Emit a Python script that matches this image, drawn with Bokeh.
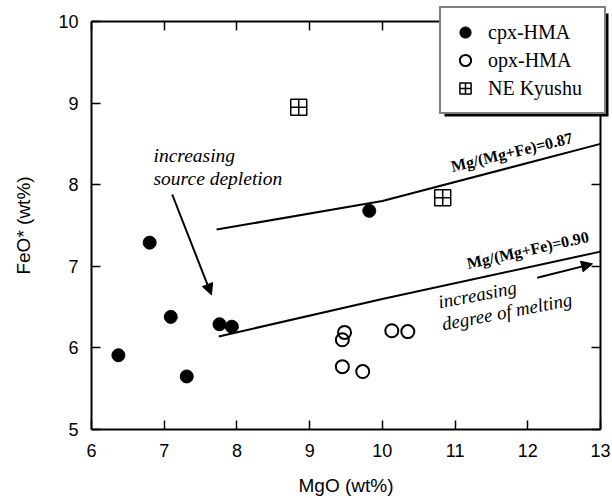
from bokeh.plotting import figure
from bokeh.models import (LinearAxis, Legend, LegendItem, Arrow,
                          NormalHead, BoxAnnotation, FixedTicker, Label)
from bokeh.embed import file_html
from bokeh.resources import INLINE

# ---- data ----
cpx_mgo = [6.37, 6.80, 7.09, 7.31, 7.76, 7.93, 9.82]
cpx_feo = [5.91, 7.29, 6.38, 5.65, 6.29, 6.26, 7.68]
opx_mgo = [9.48, 9.45, 10.13, 10.35, 9.45, 9.73]
opx_feo = [6.19, 6.10, 6.21, 6.20, 5.77, 5.71]
kyushu_mgo = [8.85, 10.83]
kyushu_feo = [8.95, 7.84]
line087_mgo = [7.72, 10.0, 13.0]
line087_feo = [7.45, 7.80, 8.50]
line090_mgo = [7.75, 10.0, 13.0]
line090_feo = [6.14, 6.60, 7.18]
x_ticks = [6, 7, 8, 9, 10, 11, 12, 13]
y_ticks = [5, 6, 7, 8, 9, 10]
x_lim = (6, 13)
y_lim = (5, 10)

SANS = "Liberation Sans"
SERIF = "Liberation Serif"

# plotting box in canvas pixels: left 91, right 600, top 21, bottom 429
W, H = 612, 498
BL, BR, BT, BB = 91, 600, 21, 429
sx = (BR - BL) / (x_lim[1] - x_lim[0])
sy = (BB - BT) / (y_lim[1] - y_lim[0])
xr = (x_lim[0] - BL / sx, x_lim[1] + (W - BR) / sx)
yr = (y_lim[0] - (H - BB) / sy, y_lim[1] + BT / sy)

p = figure(width=W, height=H, x_range=xr, y_range=yr,
           output_backend="svg", toolbar_location=None,
           min_border=0, background_fill_color="white",
           border_fill_color="white", x_axis_location=None,
           y_axis_location=None)
p.grid.visible = False
p.outline_line_color = None


def make_axis(ticks, bounds, fixed, labels=True):
    ax = LinearAxis(fixed_location=fixed, bounds=bounds)
    ax.ticker = FixedTicker(ticks=ticks)
    ax.axis_line_width = 2
    ax.axis_line_color = "black"
    ax.major_tick_line_width = 1.5
    ax.major_tick_line_color = "black"
    ax.major_tick_in = 9
    ax.major_tick_out = 0
    ax.minor_tick_in = 0
    ax.minor_tick_out = 0
    ax.minor_tick_line_color = None
    if labels:
        ax.major_label_text_font = SANS
        ax.major_label_text_font_size = "18px"
        ax.major_label_text_color = "black"
        ax.axis_label_text_font = SANS
        ax.axis_label_text_font_size = "19px"
        ax.axis_label_text_font_style = "normal"
        ax.axis_label_text_color = "black"
    else:
        ax.major_label_text_font_size = "0px"
        ax.major_label_text_alpha = 0
        ax.major_label_standoff = 0
    return ax


xa = make_axis(x_ticks, x_lim, y_lim[0])
xa.axis_label = "MgO (wt%)"
xa.major_label_standoff = 14
xa.axis_label_standoff = 15
p.add_layout(xa, "below")

ya = make_axis(y_ticks, y_lim, x_lim[0])
ya.axis_label = "FeO* (wt%)"
ya.major_label_standoff = 13
ya.axis_label_standoff = 21
p.add_layout(ya, "left")

p.add_layout(make_axis(y_ticks, y_lim, x_lim[1], labels=False), "right")
p.add_layout(make_axis(x_ticks, x_lim, y_lim[1], labels=False), "above")

# ---- lines ----
p.line(line087_mgo, line087_feo, line_color="black", line_width=2)
p.line(line090_mgo, line090_feo, line_color="black", line_width=2)

# ---- points ----
r_cpx = p.scatter(cpx_mgo, cpx_feo, marker="circle", size=13,
                  fill_color="black", line_color="black", line_width=1)
r_opx = p.scatter(opx_mgo, opx_feo, marker="circle", size=13,
                  fill_color="white", fill_alpha=0, line_color="black", line_width=2)
r_ky = p.scatter(kyushu_mgo, kyushu_feo, marker="square_cross", size=16,
                 fill_color="white", fill_alpha=0, line_color="black", line_width=1.5)


# ---- annotations ----
def note(x, y, text, size, style, align="left", angle=0):
    p.add_layout(Label(x=x, y=y, text=text, text_font=SERIF,
                       text_font_style=style, text_font_size=size,
                       text_color="black", text_align=align,
                       text_baseline="alphabetic", angle=angle,
                       angle_units="deg"))


note(6.853, 8.36, "increasing", "19.5px", "italic")
note(6.853, 8.08, "source depletion", "19.5px", "italic")
p.add_layout(Arrow(x_start=7.11, y_start=7.88, x_end=7.65, y_end=6.65,
                   line_width=2, line_color="black",
                   end=NormalHead(size=11, fill_color="black", line_color="black")))

note(11.78, 8.40, "Mg/(Mg+Fe)=0.87", "16px", "bold", "center", 13.5)
note(12.0, 7.20, "Mg/(Mg+Fe)=0.90", "16px", "bold", "center", 12.7)

note(10.77, 6.56, "increasing", "19px", "italic", "left", 11)
note(10.82, 6.29, "degree of melting", "19px", "italic", "left", 11)
p.add_layout(Arrow(x_start=12.13, y_start=6.86, x_end=12.89, y_end=7.03,
                   line_width=2, line_color="black",
                   end=NormalHead(size=11, fill_color="black", line_color="black")))

# ---- legend with drop shadow (screen pixels) ----
p.add_layout(BoxAnnotation(left=444, right=608, top=H - 13, bottom=H - 116,
                           left_units="screen", right_units="screen",
                           top_units="screen", bottom_units="screen",
                           fill_color="black", fill_alpha=1, line_color=None))
legend = Legend(items=[LegendItem(label="cpx-HMA", renderers=[r_cpx]),
                       LegendItem(label="opx-HMA", renderers=[r_opx]),
                       LegendItem(label="NE Kyushu", renderers=[r_ky])],
                location=(439, H - 114), orientation="vertical",
                label_text_font=SERIF, label_text_font_size="20px",
                label_text_color="black", label_text_baseline="middle",
                glyph_width=28, glyph_height=28, label_height=28,
                label_width=106, label_standoff=9, spacing=0, padding=10,
                margin=0, border_line_color="black", border_line_width=2,
                background_fill_color="white", background_fill_alpha=1)
p.add_layout(legend)

open("out.html", "w").write(file_html(p, INLINE))
